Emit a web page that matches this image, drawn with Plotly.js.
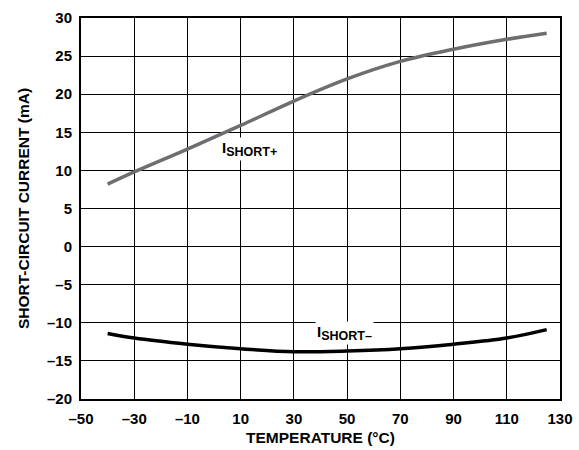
<!DOCTYPE html>
<html>
<head>
<meta charset="utf-8">
<script src="https://cdn.plot.ly/plotly-3.0.1.min.js"></script>
<style>
  html, body { margin: 0; padding: 0; background: #fff; }
  #chart { width: 579px; height: 450px; }
</style>
</head>
<body>
<div id="chart"></div>
<script>
// Temperature sweep (°C)
const temperature = [-40, -30, -10, 10, 30, 50, 70, 90, 110, 125];
// Short-circuit current, sourcing (mA)
const iShortPlus = [8.2, 9.8, 12.8, 15.9, 19.1, 22.0, 24.3, 25.9, 27.2, 28.0];
// Short-circuit current, sinking (mA)
const iShortMinus = [-11.4, -12.0, -12.8, -13.4, -13.8, -13.7, -13.4, -12.8, -12.0, -10.9];

// Axis ticks (en-dash used for negative numbers)
const xTickVals = [-50, -30, -10, 10, 30, 50, 70, 90, 110, 130];
const xTickText = ['–50', '–30', '–10', '10', '30', '50', '70', '90', '110', '130'];
const yTickVals = [-20, -15, -10, -5, 0, 5, 10, 15, 20, 25, 30];
const yTickText = ['–20', '–15', '–10', '–5', '0', '5', '10', '15', '20', '25', '30'];

const FONT = 'Liberation Sans, Arial, Helvetica, sans-serif';

const traces = [
  {
    x: temperature, y: iShortPlus, type: 'scatter', mode: 'lines',
    line: { color: '#6e6e6e', width: 3.5, shape: 'spline', smoothing: 1 },
    hoverinfo: 'skip'
  },
  {
    x: temperature, y: iShortMinus, type: 'scatter', mode: 'lines',
    line: { color: '#000000', width: 3.5, shape: 'spline', smoothing: 1 },
    hoverinfo: 'skip'
  }
];

const axisCommon = {
  showline: true, linecolor: '#000', linewidth: 2, mirror: true,
  showgrid: true, gridcolor: '#000', gridwidth: 1.2,
  zeroline: false, ticks: '', fixedrange: true,
  tickfont: { family: FONT, size: 15, color: '#000', weight: 'bold' }
};

const titleFont = { family: FONT, size: 15.5, color: '#000', weight: 'bold' };
const labelFont = { family: FONT, size: 15, color: '#000', weight: 'bold' };

// Curve label: "I" with a slightly smaller subscript
function curveLabel(sub) {
  return 'I<sub><span style="font-size:12.5px">' + sub + '</span></sub>';
}

const layout = {
  width: 579, height: 450,
  margin: { l: 81, r: 19, t: 18, b: 51 },
  paper_bgcolor: '#fff', plot_bgcolor: '#fff',
  showlegend: false,
  font: { family: FONT, color: '#000' },
  xaxis: Object.assign({}, axisCommon, {
    range: [-50, 130], tickmode: 'array', tickvals: xTickVals, ticktext: xTickText,
    ticklabelstandoff: 5,
    title: { text: 'TEMPERATURE (°C)', font: titleFont, standoff: 6 }
  }),
  yaxis: Object.assign({}, axisCommon, {
    range: [-20, 30], tickmode: 'array', tickvals: yTickVals, ticktext: yTickText,
    ticklabelstandoff: 4,
    title: { text: 'SHORT-CIRCUIT CURRENT (mA)', font: titleFont, standoff: 14 }
  }),
  annotations: [
    {
      x: 2.4, y: 12.8, xref: 'x', yref: 'y', xanchor: 'left', yanchor: 'middle',
      text: curveLabel('SHORT+'), showarrow: false,
      font: labelFont, bgcolor: '#fff'
    },
    {
      x: 38, y: -11.3, xref: 'x', yref: 'y', xanchor: 'left', yanchor: 'middle',
      text: curveLabel('SHORT–'), showarrow: false,
      font: labelFont, bgcolor: '#fff'
    }
  ]
};

Plotly.newPlot('chart', traces, layout, { staticPlot: true, displayModeBar: false });
</script>
</body>
</html>
